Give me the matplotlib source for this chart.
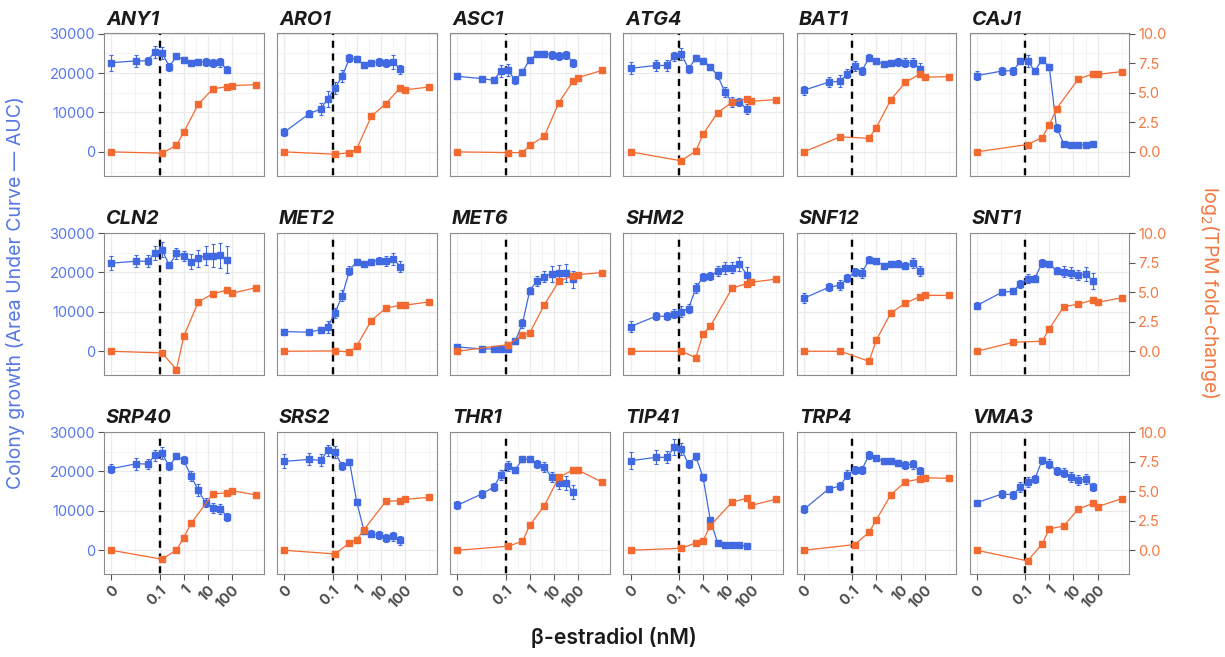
import numpy as np
import matplotlib
matplotlib.use("Agg")
import matplotlib.pyplot as plt

# ---------------- data ----------------
genes = ["ANY1", "ARO1", "ASC1", "ATG4", "BAT1", "CAJ1",
         "CLN2", "MET2", "MET6", "SHM2", "SNF12", "SNT1",
         "SRP40", "SRS2", "THR1", "TIP41", "TRP4", "VMA3"]

auc_dose = [0, 0.01, 0.03125, 0.0625, 0.125, 0.25, 0.5, 1, 2, 4, 8, 16, 32, 64]

tpm_dose_a = [0, 0.125, 0.5, 1, 4, 16, 64, 100, 1000]
tpm_dose_b = [0, 0.125, 0.5, 1, 2, 16, 64, 100, 1000]
tpm_dose_c = [0, 0.03125, 0.5, 1, 4, 16, 64, 100, 1000]

auc_ANY1 = [22650, 23100, 23100, 25400, 25200, 21650, 24250, 23400, 22500, 22800, 22900, 22600, 22700, 20800]
err_ANY1 = [2000, 1500, 1000, 1500, 1500, 1000, 700, 800, 800, 800, 1000, 1000, 1200, 900]
tpm_ANY1 = [0, -0.11, 0.56, 1.66, 4.03, 5.33, 5.52, 5.61, 5.69]

auc_ARO1 = [4990, 9720, 10900, 13440, 16220, 19180, 23800, 23500, 22140, 22560, 22820, 22650, 22820, 20960]
err_ARO1 = [1000, 800, 1500, 2000, 1500, 1500, 1000, 800, 800, 800, 1000, 1000, 1800, 1200]
tpm_ARO1 = [0, -0.2, -0.08, 0.25, 3.01, 4.08, 5.44, 5.25, 5.49]

auc_ASC1 = [19180, 18590, 18170, 20530, 20700, 18170, 20360, 23410, 24760, 24760, 24670, 24420, 24670, 22560]
err_ASC1 = [600, 500, 800, 1500, 1500, 1000, 800, 700, 700, 800, 1000, 1000, 1000, 1000]
tpm_ASC1 = [0, -0.06, -0.06, 0.54, 1.32, 4.17, 6.03, 6.28, 6.9]

auc_ATG4 = [21210, 21930, 21930, 24250, 24900, 21080, 23800, 23100, 21600, 19400, 15170, 12640, 12590, 10900]
err_ATG4 = [1500, 1500, 1500, 1200, 1500, 1000, 800, 800, 800, 1000, 1200, 1200, 1000, 1300]
tpm_ATG4 = [0, -0.76, 0.08, 1.49, 3.32, 4.2, 4.51, 4.28, 4.42]

auc_BAT1 = [15630, 17740, 17910, 19860, 21800, 20530, 23910, 23070, 22220, 22650, 22820, 22650, 22650, 20960]
err_BAT1 = [1200, 1300, 1500, 1200, 1200, 1000, 900, 600, 600, 600, 1000, 1200, 1200, 1500]
tpm_BAT1 = [0, 1.27, 1.15, 2.06, 4.42, 5.89, 6.59, 6.31, 6.37]

auc_CAJ1 = [19350, 20530, 20620, 22980, 23150, 20530, 23320, 21630, 6170, 2110, 1770, 1690, 1770, 1940]
err_CAJ1 = [1200, 1000, 1000, 800, 1500, 800, 800, 800, 1000, 500, 300, 300, 300, 300]
tpm_CAJ1 = [0, 0.62, 1.21, 2.25, 3.66, 6.17, 6.59, 6.56, 6.79]

auc_CLN2 = [22360, 22870, 22870, 24990, 25830, 21850, 24820, 24220, 22780, 23630, 24310, 24310, 24390, 23290]
err_CLN2 = [1800, 1500, 1500, 1800, 1800, 800, 1500, 1200, 1800, 2200, 2500, 2800, 3200, 3500]
tpm_CLN2 = [0, -0.14, -1.55, 1.27, 4.18, 4.86, 5.19, 4.91, 5.39]

auc_MET2 = [5000, 4830, 5510, 6180, 9740, 14140, 20500, 22780, 22280, 22700, 23040, 22950, 23460, 21510]
err_MET2 = [600, 500, 700, 1500, 1200, 1500, 1200, 600, 700, 700, 1000, 1200, 1500, 1500]
tpm_MET2 = [0, 0.03, -0.06, 0.45, 2.6, 3.64, 3.9, 3.9, 4.18]

auc_MET6 = [1100, 590, 590, 680, 590, 2540, 7110, 15420, 17870, 18970, 19650, 19900, 19900, 18290]
err_MET6 = [500, 500, 400, 400, 600, 800, 1200, 1000, 1200, 1500, 2000, 2000, 2200, 2200]
tpm_MET6 = [0, 0.56, 1.38, 1.55, 3.92, 5.93, 6.38, 6.49, 6.66]

auc_SHM2 = [6270, 8890, 8890, 9570, 10080, 10840, 16010, 18890, 19060, 20410, 21180, 21260, 22110, 19480]
err_SHM2 = [1500, 1000, 1000, 1200, 1500, 1200, 1200, 1000, 1000, 1200, 1500, 1500, 1800, 1800]
tpm_SHM2 = [0, 0, -0.54, 1.47, 2.12, 5.34, 5.73, 5.84, 6.1]

auc_SNF12 = [13470, 16260, 16770, 18630, 20070, 19820, 23290, 22870, 21770, 22190, 22190, 21770, 22360, 20330]
err_SNF12 = [1200, 1000, 1200, 1000, 1000, 1300, 900, 600, 600, 800, 900, 1000, 1200, 1200]
tpm_SNF12 = [0, 0, -0.85, 0.96, 3.25, 4.07, 4.63, 4.74, 4.72]

auc_SNT1 = [11600, 14990, 15250, 17110, 18460, 18460, 22360, 22190, 20500, 20240, 19990, 19310, 19570, 17870]
err_SNT1 = [800, 800, 800, 1000, 1200, 800, 1000, 800, 1000, 1300, 1300, 1300, 1700, 2000]
tpm_SNT1 = [0, 0.76, 0.85, 1.89, 3.78, 3.98, 4.35, 4.15, 4.52]

auc_SRP40 = [20700, 21970, 21890, 24080, 24670, 21290, 24000, 22820, 18840, 15210, 12080, 10820, 10560, 8450]
err_SRP40 = [1200, 1500, 1300, 1300, 1500, 1000, 800, 1000, 1300, 1500, 1200, 1300, 1300, 900]
tpm_SRP40 = [0, -0.76, 0.03, 1.07, 2.28, 4.76, 4.87, 5.04, 4.68]

auc_SRS2 = [22560, 23070, 22820, 25350, 24930, 21290, 22480, 12250, 4900, 4230, 3800, 3210, 3550, 2540]
err_SRS2 = [1800, 1500, 1500, 1500, 1500, 1000, 800, 800, 800, 800, 1000, 1000, 1200, 1200]
tpm_SRS2 = [0, -0.31, 0.62, 0.9, 1.75, 4.14, 4.2, 4.31, 4.48]

auc_THR1 = [11410, 14370, 16060, 19100, 21460, 20450, 23150, 23070, 21890, 21130, 18590, 17150, 17070, 14790]
err_THR1 = [1000, 1000, 1000, 1200, 1300, 800, 700, 700, 1000, 1200, 1300, 1500, 1700, 1800]
tpm_THR1 = [0, 0.34, 0.76, 2.11, 3.77, 6.17, 6.82, 6.79, 5.75]

auc_TIP41 = [22730, 23580, 23580, 26200, 25770, 21800, 23830, 18510, 7600, 1940, 1350, 1270, 1270, 1100]
err_TIP41 = [2200, 1800, 1500, 2000, 1500, 1000, 800, 800, 800, 700, 400, 400, 400, 400]
tpm_TIP41 = [0, 0.17, 0.62, 0.82, 2.08, 4.08, 4.39, 3.8, 4.31]

auc_TRP4 = [10390, 15630, 16310, 19180, 20450, 20450, 24250, 23410, 22560, 22560, 22140, 21720, 21800, 20030]
err_TRP4 = [1000, 800, 1000, 1200, 1000, 1000, 1000, 600, 700, 700, 800, 1000, 1200, 1200]
tpm_TRP4 = [0, 0.48, 1.52, 2.59, 4.7, 5.8, 6.03, 6.14, 6.08]

auc_VMA3 = [12080, 14280, 14110, 16060, 17320, 18000, 22820, 21970, 20200, 19690, 18590, 17830, 18080, 16060]
err_VMA3 = [600, 1000, 1000, 1200, 1300, 1000, 800, 1200, 1000, 1200, 1200, 1300, 1300, 1000]
tpm_VMA3 = [0, -0.9, 0.51, 1.8, 2.06, 3.49, 3.97, 3.69, 4.37]

x_ticks = [0, 0.1, 1, 10, 100]
x_tick_labels = ["0", "0.1", "1", "10", "100"]
y_ticks = [0, 10000, 20000, 30000]
y2_ticks = [0.0, 2.5, 5.0, 7.5, 10.0]
y2_tick_labels = ["0.0", "2.5", "5.0", "7.5", "10.0"]
threshold = 0.1

auc = {"ANY1": auc_ANY1, "ARO1": auc_ARO1, "ASC1": auc_ASC1, "ATG4": auc_ATG4, "BAT1": auc_BAT1,
       "CAJ1": auc_CAJ1, "CLN2": auc_CLN2, "MET2": auc_MET2, "MET6": auc_MET6, "SHM2": auc_SHM2,
       "SNF12": auc_SNF12, "SNT1": auc_SNT1, "SRP40": auc_SRP40, "SRS2": auc_SRS2, "THR1": auc_THR1,
       "TIP41": auc_TIP41, "TRP4": auc_TRP4, "VMA3": auc_VMA3}
err = {"ANY1": err_ANY1, "ARO1": err_ARO1, "ASC1": err_ASC1, "ATG4": err_ATG4, "BAT1": err_BAT1,
       "CAJ1": err_CAJ1, "CLN2": err_CLN2, "MET2": err_MET2, "MET6": err_MET6, "SHM2": err_SHM2,
       "SNF12": err_SNF12, "SNT1": err_SNT1, "SRP40": err_SRP40, "SRS2": err_SRS2, "THR1": err_THR1,
       "TIP41": err_TIP41, "TRP4": err_TRP4, "VMA3": err_VMA3}
tpm = {"ANY1": tpm_ANY1, "ARO1": tpm_ARO1, "ASC1": tpm_ASC1, "ATG4": tpm_ATG4, "BAT1": tpm_BAT1,
       "CAJ1": tpm_CAJ1, "CLN2": tpm_CLN2, "MET2": tpm_MET2, "MET6": tpm_MET6, "SHM2": tpm_SHM2,
       "SNF12": tpm_SNF12, "SNT1": tpm_SNT1, "SRP40": tpm_SRP40, "SRS2": tpm_SRS2, "THR1": tpm_THR1,
       "TIP41": tpm_TIP41, "TRP4": tpm_TRP4, "VMA3": tpm_VMA3}
tpm_dose = {g: tpm_dose_a for g in genes}
for g in ["CAJ1", "SHM2", "SRP40", "SRS2", "TIP41"]:
    tpm_dose[g] = tpm_dose_b
for g in ["BAT1", "SNF12", "SNT1"]:
    tpm_dose[g] = tpm_dose_c

# ---------------- style ----------------
BLUE = "#4169E1"
BLUE_TXT = "#5577E6"
ORANGE = "#F36A30"
ORANGE_TXT = "#F4773F"
GRID = "#EBEBEB"
plt.rcParams["font.family"] = ["Inter", "DejaVu Sans"]

W, H = 1225, 657
fig = plt.figure(figsize=(W / 100, H / 100), dpi=100)

OFF = 0.001
def fwd(x):
    return np.log10(np.asarray(x, dtype=float) + OFF)
def inv(t):
    return 10 ** np.asarray(t, dtype=float) - OFF

col_left = [104, 277, 450, 623.3, 796.6, 969.5]
row_top = [33.3, 232.7, 431.7]
pw, ph = 159.5, 142.4

YMIN, YMAX = -6050, 30100
SCALE = 3000.0
TICKFS = 10.5

for i, g in enumerate(genes):
    r, c = divmod(i, 6)
    l = col_left[c]
    t = row_top[r]
    ax = fig.add_axes([l / W, 1 - (t + ph) / H, pw / W, ph / H])
    ax.set_xscale("function", functions=(fwd, inv))
    ax.set_xlim(inv(-3.3), inv(3.3))
    ax.set_ylim(YMIN, YMAX)

    # grid
    ax.set_xticks(x_ticks)
    ax.set_xticks(inv([-2, -0.5, 0.5, 1.5, 3]), minor=True)
    ax.set_yticks(y_ticks)
    ax.set_yticks([-5000, 5000, 15000, 25000], minor=True)
    ax.grid(True, which="major", color=GRID, lw=0.9, zorder=0)
    ax.grid(True, which="minor", color="#F2F2F2", lw=0.6, zorder=0)
    ax.set_axisbelow(True)
    for s in ax.spines.values():
        s.set_color("#8C8C8C")
        s.set_linewidth(0.8)

    # threshold line (drawn top-down, starting with a gap)
    ax.axvline(threshold, color="black", lw=1.7, ls=(3.0 * 1.7, (3.0, 2.4)), zorder=2)

    # blue AUC series
    ax.errorbar(auc_dose, auc[g], yerr=err[g], color=BLUE, lw=0.9, marker="s",
                markersize=3.7, elinewidth=0.8, capsize=1.5, capthick=0.8, zorder=3)

    # orange TPM series on secondary axis
    ax2 = ax.twinx()
    ax2.set_ylim(YMIN / SCALE, YMAX / SCALE)
    ax2.plot(tpm_dose[g], tpm[g], color=ORANGE, lw=0.9, marker="s", markersize=3.7, zorder=3)
    ax2.set_yticks(y2_ticks)
    for s in ax2.spines.values():
        s.set_visible(False)

    # ticks / labels
    if c == 0:
        ax.set_yticklabels([str(v) for v in y_ticks], color=BLUE_TXT, fontsize=TICKFS)
        ax.tick_params(axis="y", which="major", length=4.5, width=0.8, color="#555555", pad=2)
    else:
        ax.tick_params(axis="y", which="major", length=0, labelleft=False)
    ax.tick_params(axis="y", which="minor", length=0)
    if c == 5:
        ax2.set_yticklabels(y2_tick_labels, color=ORANGE_TXT, fontsize=TICKFS)
        ax2.tick_params(axis="y", length=4.5, width=0.8, color="#555555", pad=2)
    else:
        ax2.tick_params(axis="y", length=0, labelright=False)
    if r == 2:
        ax.set_xticklabels(x_tick_labels, rotation=45, ha="right", va="top",
                           rotation_mode="anchor", color="#4D4D4D", fontsize=TICKFS,
                           fontweight="bold")
        ax.tick_params(axis="x", which="major", length=4, width=0.8, color="#555555", pad=2.5)
    else:
        ax.tick_params(axis="x", which="major", length=0, labelbottom=False)
    ax.tick_params(axis="x", which="minor", length=0, labelbottom=False)

    ax.annotate(g, xy=(0, 1), xycoords="axes fraction", xytext=(1.5, 6.2),
                textcoords="offset points", ha="left", va="baseline",
                fontsize=14.3, fontweight="bold", fontstyle="italic", color="#1A1A1A")

fig.text(16 / W, 1 - 293 / H, "Colony growth (Area Under Curve \u2014 AUC)", rotation=90,
         ha="center", va="center", color=BLUE_TXT, fontsize=14)
fig.text(1210 / W, 1 - 292 / H, r"log$_2$(TPM fold-change)", rotation=270,
         ha="center", va="center", color=ORANGE_TXT, fontsize=14)
fig.text(614 / W, 1 - 638 / H, "\u03b2-estradiol (nM)", ha="center", va="center",
         color="#1A1A1A", fontsize=15.3, fontweight="semibold")

fig.savefig("out.png", dpi=100)
